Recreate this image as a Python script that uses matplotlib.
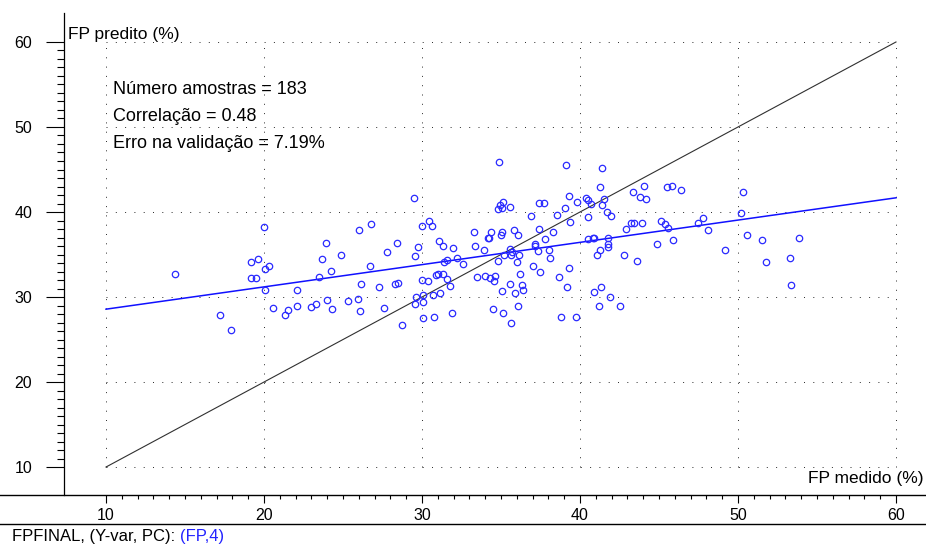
import matplotlib
matplotlib.use("Agg")
import matplotlib.pyplot as plt
from matplotlib.lines import Line2D
from matplotlib.ticker import FixedLocator

# Measured vs. predicted FP (%) for the validation samples
fp_medido = [
    14.35, 17.2, 17.9, 20.0, 19.18, 19.6, 20.04, 20.3, 19.2, 19.5,
    20.04, 20.6, 21.3, 21.5, 22.07, 22.1, 29.47, 26.0, 26.8, 23.9,
    23.65, 24.9, 27.8, 28.4, 24.24, 23.46, 26.7, 23.0, 23.3, 23.97,
    24.3, 25.3, 25.95, 26.08, 26.16, 27.26, 27.6, 28.27, 28.5, 28.75,
    29.56, 29.77, 29.98, 30.44, 30.65, 29.98, 30.35, 29.6, 29.56, 30.08,
    30.04, 30.7, 31.16, 30.06, 30.74, 31.9, 31.1, 31.3, 31.96, 32.2,
    31.4, 31.56, 32.6, 30.9, 31.0, 31.35, 31.6, 31.75, 33.3, 33.37,
    33.5, 34.9, 39.1, 41.4, 41.25, 39.3, 34.83, 34.94, 35.1, 35.06,
    35.57, 37.4, 37.7, 36.9, 38.56, 39.03, 39.37, 39.8, 40.36, 40.5,
    40.7, 40.5, 41.4, 41.5, 41.7, 41.96, 43.35, 44.07, 43.8, 44.2,
    45.5, 34.35, 34.2, 34.24, 35.06, 34.98, 35.8, 36.1, 37.4, 38.3,
    37.76, 33.9, 35.6, 35.7, 35.2, 35.65, 36.14, 37.17, 37.17, 37.34,
    38.07, 38.1, 34.83, 36.0, 37.0, 37.5, 36.2, 34.0, 34.3, 34.56,
    34.6, 35.57, 36.35, 36.4, 35.9, 35.06, 36.08, 34.47, 35.13, 35.65,
    38.65, 39.3, 39.2, 38.8, 39.76, 40.5, 40.8, 40.9, 41.8, 41.25,
    41.1, 41.75, 41.8, 40.9, 41.3, 41.9, 41.2, 42.55, 42.8, 43.6,
    42.9, 43.2, 43.4, 43.9, 45.1, 45.4, 45.6, 44.9, 45.8, 46.4,
    50.3, 50.2, 45.9, 47.5, 47.76, 48.1, 49.15, 50.55, 51.5, 51.8,
    53.3, 53.86, 53.35,
]
fp_predito = [
    32.7, 27.9, 26.1, 38.2, 34.1, 34.5, 33.3, 33.7, 32.2, 32.2,
    30.8, 28.7, 27.9, 28.5, 29.0, 30.8, 41.6, 37.9, 38.6, 36.4,
    34.5, 35.0, 35.3, 36.4, 33.1, 32.3, 33.6, 28.8, 29.2, 29.6,
    28.6, 29.5, 29.8, 28.3, 31.5, 31.2, 28.7, 31.5, 31.7, 26.7,
    34.8, 35.9, 38.3, 39.0, 38.3, 32.0, 31.9, 30.0, 29.2, 30.2,
    29.4, 30.2, 30.5, 27.5, 27.6, 28.1, 36.6, 36.0, 35.8, 34.6,
    34.1, 34.3, 33.85, 32.6, 32.7, 32.7, 32.15, 31.3, 37.6, 36.0,
    32.3, 45.9, 45.5, 45.2, 43.0, 41.9, 40.3, 40.8, 41.2, 40.5,
    40.6, 41.1, 41.1, 39.5, 39.7, 40.5, 38.8, 41.2, 41.7, 41.4,
    41.0, 39.4, 40.8, 41.5, 39.97, 39.5, 42.3, 43.1, 41.8, 41.5,
    43.0, 37.7, 37.0, 36.9, 37.7, 37.3, 37.85, 37.3, 38.0, 37.6,
    36.8, 35.5, 35.7, 35.3, 34.9, 34.95, 34.9, 36.2, 36.0, 35.4,
    35.5, 34.6, 34.2, 34.1, 33.65, 32.9, 32.7, 32.5, 32.2, 31.9,
    32.5, 31.5, 31.4, 30.8, 30.5, 30.7, 29.0, 28.6, 28.1, 27.0,
    32.3, 33.4, 31.2, 27.6, 27.6, 36.8, 36.9, 37.0, 37.0, 35.5,
    34.9, 35.9, 36.2, 30.6, 31.2, 30.0, 28.9, 28.9, 34.9, 34.2,
    38.0, 38.7, 38.7, 38.7, 39.0, 38.6, 38.1, 36.2, 43.1, 42.6,
    42.4, 39.85, 36.7, 38.7, 39.3, 37.9, 35.5, 37.3, 36.7, 34.1,
    34.6, 36.9, 31.4,
]

# Regression line of predicted on measured, and the 1:1 reference line
fit_slope = 0.262
fit_intercept = 25.95
ref_range = [10, 60]

grid_values = [10, 20, 30, 40, 50, 60]
minor_values = [v for v in range(10, 61) if v % 10 != 0]

stats_lines = [
    "Número amostras = 183",
    "Correlação = 0.48",
    "Erro na validação = 7.19%",
]
x_label = "FP medido (%)"
y_label = "FP predito (%)"
footer_main = "FPFINAL, (Y-var, PC): "
footer_tag = "(FP,4)"

FONT = ["Liberation Sans", "DejaVu Sans"]
plt.rcParams["font.family"] = FONT

W, H = 926, 546
fig = plt.figure(figsize=(W / 100, H / 100), dpi=100)
fig.patch.set_facecolor("white")


def fx(px):
    return px / W


def fy(py):
    return 1 - py / H


ax_left, ax_bottom, ax_top = 63.5, 495, 13
ax = fig.add_axes([fx(ax_left), fy(ax_bottom), 1 - fx(ax_left), (ax_bottom - ax_top) / H])
ax.set_xlim(7.31, 61.9)
ax.set_ylim(6.71, 63.41)
ax.set_facecolor("white")

for side in ("top", "right", "bottom"):
    ax.spines[side].set_visible(False)
ax.spines["left"].set_linewidth(0.9)
ax.spines["left"].set_color("black")

# dotted grid confined to the 10..60 box
dot_style = dict(color="#333333", linewidth=0.72, linestyle=(0, (1, 8.3)), zorder=1)
for v in grid_values:
    ax.plot([v, v], ref_range, **dot_style)
    ax.plot(ref_range, [v, v], **dot_style)

# 1:1 line and regression line
ax.plot(ref_range, ref_range, color="#303030", linewidth=0.8, zorder=2)
fit_x = [10, 60]
fit_y = [fit_intercept + fit_slope * v for v in fit_x]
ax.plot(fit_x, fit_y, color="#1010ff", linewidth=1.1, zorder=3)

ax.plot(fp_medido, fp_predito, linestyle="none", marker="o", markersize=4.6,
        markerfacecolor="none", markeredgecolor="#2a2aff", markeredgewidth=0.9,
        zorder=4)

# ticks
ax.xaxis.set_major_locator(FixedLocator(grid_values))
ax.xaxis.set_minor_locator(FixedLocator(minor_values))
ax.yaxis.set_major_locator(FixedLocator(grid_values))
ax.yaxis.set_minor_locator(FixedLocator(minor_values))
ax.tick_params(axis="x", which="major", direction="out", length=5.8, width=0.8,
               pad=3.6, labelsize=11.5, colors="black")
ax.tick_params(axis="x", which="minor", direction="out", length=2.9, width=0.8)
ax.tick_params(axis="y", which="major", direction="out", length=13.0, width=0.8,
               pad=9.5, labelsize=11.5, colors="black")
ax.tick_params(axis="y", which="minor", direction="out", length=4.8, width=0.8)
for lab in ax.get_xticklabels() + ax.get_yticklabels():
    lab.set_family(FONT)

# horizontal rules across the full width
for py in (495, 524):
    fig.add_artist(Line2D([0, 1], [fy(py), fy(py)], color="black",
                          linewidth=1.0, transform=fig.transFigure))

# axis titles
fig.text(fx(68), fy(38.5), y_label, fontsize=12.5, ha="left", va="baseline",
         color="black", bbox=dict(facecolor="white", edgecolor="none", pad=0.5),
         zorder=5)
fig.text(fx(923), fy(483.5), x_label, fontsize=12.5, ha="right", va="baseline",
         color="black")

# statistics block
for i, line in enumerate(stats_lines):
    fig.text(fx(113), fy(93.5 + 27.5 * i), line, fontsize=13, ha="left",
             va="baseline", color="black")

# footer
t = fig.text(fx(12), fy(541.5), footer_main, fontsize=12, ha="left",
             va="baseline", color="black")
fig.canvas.draw()
bb = t.get_window_extent()
fig.text(bb.x1 / fig.dpi / fig.get_figwidth(), fy(541.5), footer_tag, fontsize=12,
         ha="left", va="baseline", color="#2323ff")

fig.savefig("out.png", dpi=100, facecolor="white")
